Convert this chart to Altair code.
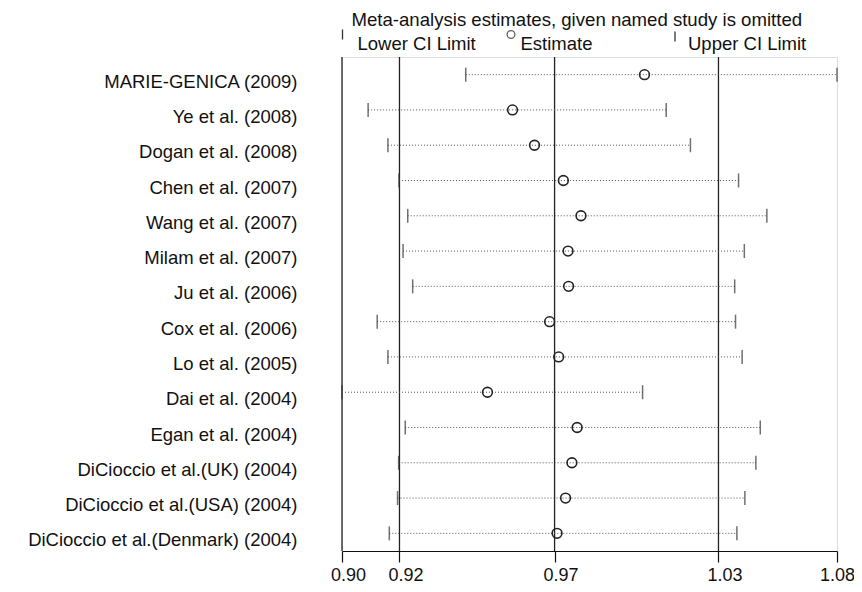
import json
import altair as alt
import pandas as pd

# ---- data ----
studies = [
    "MARIE-GENICA (2009)",
    "Ye et al. (2008)",
    "Dogan et al. (2008)",
    "Chen et al. (2007)",
    "Wang et al. (2007)",
    "Milam et al. (2007)",
    "Ju et al. (2006)",
    "Cox et al. (2006)",
    "Lo et al. (2005)",
    "Dai et al. (2004)",
    "Egan et al. (2004)",
    "DiCioccio et al.(UK) (2004)",
    "DiCioccio et al.(USA) (2004)",
    "DiCioccio et al.(Denmark) (2004)",
]
lower = [0.9450, 0.9095, 0.9167, 0.9207, 0.9239, 0.9222, 0.9257,
         0.9128, 0.9167, 0.9000, 0.9230, 0.9206, 0.9202, 0.9172]
estimate = [1.0100, 0.9620, 0.9700, 0.9805, 0.9869, 0.9822, 0.9824,
            0.9755, 0.9788, 0.9529, 0.9855, 0.9836, 0.9813, 0.9782]
upper = [1.0800, 1.0179, 1.0267, 1.0442, 1.0545, 1.0463, 1.0428,
         1.0431, 1.0455, 1.0093, 1.0521, 1.0505, 1.0465, 1.0436]

ref_values = [0.9000, 0.9209, 0.9773, 1.0369]          # min, overall lower CI, overall estimate, overall upper CI
tick_values = [0.9000, 0.9209, 0.9773, 1.0369, 1.0800]
tick_labels = ["0.90", "0.92", "0.97", "1.03", "1.08"]

title_text = "Meta-analysis estimates, given named study is omitted"
legend_lower = "Lower CI Limit"
legend_est = "Estimate"
legend_upper = "Upper CI Limit"

FONT = "Liberation Sans"
W, H = 495, 494

df = pd.DataFrame({"study": studies, "lower": lower, "est": estimate, "upper": upper})
ref_df = pd.DataFrame({"v": ref_values})

label_expr = "{}[indexof({}, datum.value)]".format(json.dumps(tick_labels), json.dumps(tick_values))

xscale = alt.Scale(domain=[tick_values[0], tick_values[-1]], nice=False, zero=False)
yscale = alt.Scale(domain=studies, paddingInner=0, paddingOuter=0)

x_axis = alt.Axis(values=tick_values, labelExpr=label_expr, grid=False, title=None,
                  domainColor="#111", domainWidth=1.2, tickColor="#111", tickWidth=1.2,
                  tickSize=11, labelFont=FONT, labelFontSize=18, labelColor="#111",
                  labelPadding=4,
                  labelOffset={"condition": {"test": f"datum.value >= {tick_values[-1]}", "value": 0}, "value": 6},
                  labelFlush=False, labelOverlap=False)
y_axis = alt.Axis(title=None, domain=False, ticks=False, labelFont=FONT, labelFontSize=18.5,
                  labelColor="#111", labelPadding=45, labelOffset=7, labelLimit=400)

base = alt.Chart(df)

refs = alt.Chart(ref_df).mark_rule(color="#222", strokeWidth=1.3).encode(
    x=alt.X("v:Q", scale=xscale, axis=x_axis)
)

dotted = base.mark_rule(color="#555", strokeWidth=1, strokeDash=[1, 2]).encode(
    x=alt.X("lower:Q", scale=xscale, axis=x_axis),
    x2="upper:Q",
    y=alt.Y("study:N", scale=yscale, axis=y_axis, sort=studies),
)

lo_ticks = base.mark_tick(color="#333", thickness=1.5, size=14).encode(
    x=alt.X("lower:Q", scale=xscale, axis=x_axis),
    y=alt.Y("study:N", scale=yscale, axis=y_axis, sort=studies),
)
hi_ticks = base.mark_tick(color="#333", thickness=1.5, size=14).encode(
    x=alt.X("upper:Q", scale=xscale, axis=x_axis),
    y=alt.Y("study:N", scale=yscale, axis=y_axis, sort=studies),
)

points = base.mark_point(shape="circle", filled=False, color="#222", strokeWidth=1.6, size=95, opacity=1).encode(
    x=alt.X("est:Q", scale=xscale, axis=x_axis),
    y=alt.Y("study:N", scale=yscale, axis=y_axis, sort=studies),
)

# ---- title and legend (decorations above the plot) ----
one = pd.DataFrame({"k": [0]})
title_mark = alt.Chart(one).mark_text(
    text=title_text, font=FONT, fontSize=18.6, align="left", baseline="alphabetic", color="#111"
).encode(x=alt.value(9.5), y=alt.value(-31))

leg_lower_txt = alt.Chart(one).mark_text(
    text=legend_lower, font=FONT, fontSize=18.5, align="left", baseline="alphabetic", color="#111"
).encode(x=alt.value(15.5), y=alt.value(-7.5))
leg_est_txt = alt.Chart(one).mark_text(
    text=legend_est, font=FONT, fontSize=18.5, align="left", baseline="alphabetic", color="#111"
).encode(x=alt.value(178.5), y=alt.value(-7.5))
leg_upper_txt = alt.Chart(one).mark_text(
    text=legend_upper, font=FONT, fontSize=18.5, align="left", baseline="alphabetic", color="#111"
).encode(x=alt.value(346), y=alt.value(-7.5))

leg_bar1 = alt.Chart(one).mark_rule(color="#333", strokeWidth=1.3).encode(
    x=alt.value(0.5), y=alt.value(-27.5), y2=alt.value(-17.5))
leg_bar2 = alt.Chart(one).mark_rule(color="#333", strokeWidth=1.3).encode(
    x=alt.value(333), y=alt.value(-25.5), y2=alt.value(-15.5))
leg_circ = alt.Chart(one).mark_point(shape="circle", filled=False, color="#222", strokeWidth=1.3, size=60).encode(
    x=alt.value(169), y=alt.value(-22.5))

chart = alt.layer(
    refs, dotted, lo_ticks, hi_ticks, points,
    title_mark, leg_lower_txt, leg_est_txt, leg_upper_txt, leg_bar1, leg_bar2, leg_circ,
).properties(
    width=W, height=H,
    autosize=alt.AutoSizeParams(type="none"),
    padding={"left": 334, "top": 49, "right": 17, "bottom": 33},
).configure_view(stroke=None).configure(background="white")

chart.save("out.html", embed_options={"renderer": "svg", "actions": False})
